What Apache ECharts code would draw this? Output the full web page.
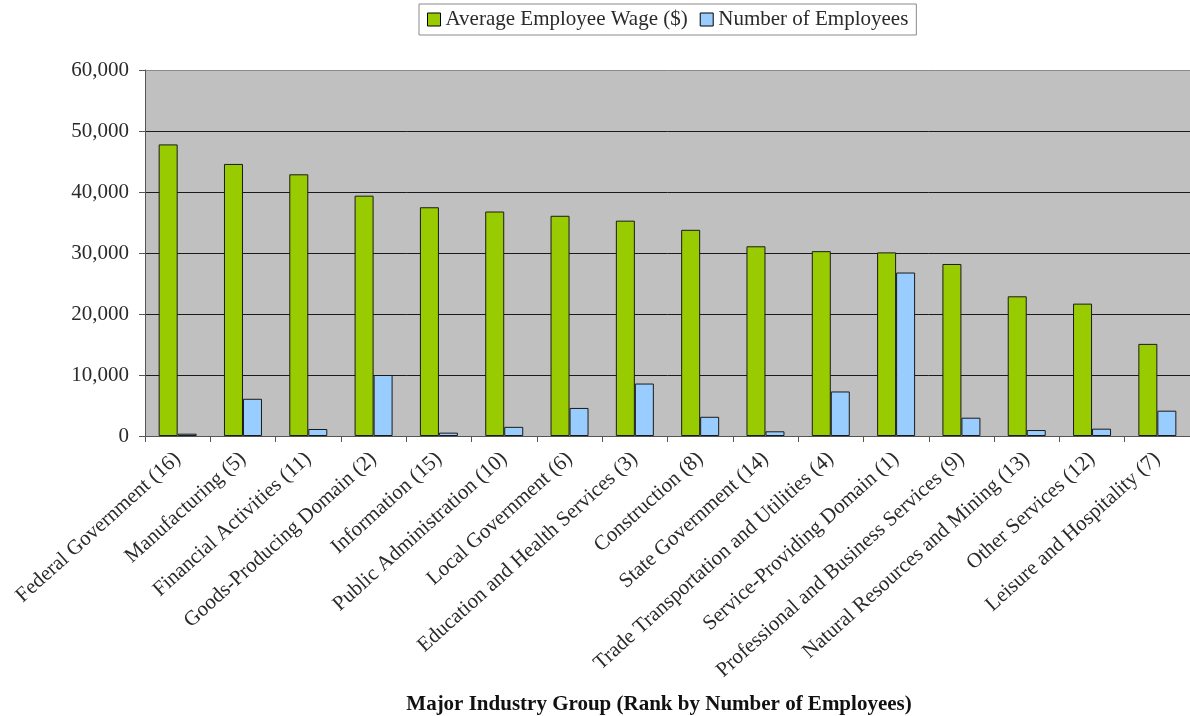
<!DOCTYPE html>
<html>
<head>
<meta charset="utf-8">
<title>Average Employee Wage and Number of Employees by Industry</title>
<script src="https://cdn.jsdelivr.net/npm/echarts@6/dist/echarts.min.js"></script>
<style>
  html, body { margin: 0; padding: 0; background: #fff; }
  #chart { width: 1190px; height: 716px; }
</style>
</head>
<body>
<div id="chart"></div>
<script>
// Industry groups, with their rank by number of employees
const categories = [
  'Federal Government (16)',
  'Manufacturing (5)',
  'Financial Activities (11)',
  'Goods-Producing Domain (2)',
  'Information (15)',
  'Public Administration (10)',
  'Local Government (6)',
  'Education and Health Services (3)',
  'Construction (8)',
  'State Government (14)',
  'Trade Transportation and Utilities (4)',
  'Service-Providing Domain (1)',
  'Professional and Business Services (9)',
  'Natural Resources and Mining (13)',
  'Other Services (12)',
  'Leisure and Hospitality (7)'
];

const averageWage = [
  47800, 44600, 42900, 39400, 37500, 36800, 36100, 35300,
  33800, 31100, 30300, 30100, 28200, 22900, 21700, 15100
];

const employees = [
  380, 6100, 1150, 10000, 550, 1500, 4600, 8600,
  3150, 770, 7300, 26800, 3000, 980, 1200, 4150
];

const yTicks = [0, 10000, 20000, 30000, 40000, 50000, 60000];

const serif = '"Liberation Serif", "Times New Roman", serif';
const textColor = '#2a2a2a';
const fontSize = 21;

const chart = echarts.init(document.getElementById('chart'), null, { renderer: 'canvas' });

chart.setOption({
  animation: false,
  backgroundColor: '#ffffff',
  textStyle: { fontFamily: serif, color: textColor },
  legend: {
    left: 419,
    top: 4,
    padding: [5, 8, 5, 8],
    borderColor: '#8a8a8a',
    borderWidth: 1,
    itemWidth: 13,
    itemHeight: 13,
    itemGap: 12,
    icon: 'rect',
    textStyle: { fontFamily: serif, fontSize: fontSize, color: textColor },
    data: [
      { name: 'Average Employee Wage ($)', itemStyle: { color: '#99cc00', borderColor: '#000', borderWidth: 1 } },
      { name: 'Number of Employees', itemStyle: { color: '#99ccff', borderColor: '#000', borderWidth: 1 } }
    ]
  },
  grid: {
    left: 145,
    right: 0,
    top: 70,
    bottom: 280,
    show: true,
    backgroundColor: '#c0c0c0',
    borderWidth: 0,
    containLabel: false,
    outerBoundsMode: 'none'
  },
  xAxis: {
    type: 'category',
    data: categories,
    boundaryGap: true,
    name: 'Major Industry Group (Rank by Number of Employees)',
    nameLocation: 'middle',
    nameGap: 258,
    nameTextStyle: {
      fontFamily: serif,
      fontSize: fontSize,
      fontWeight: 'bold',
      color: '#111',
      padding: [0, 17, 0, 0]
    },
    axisLine: { show: true, lineStyle: { color: '#555', width: 1 } },
    axisTick: { show: true, alignWithLabel: false, length: 6, lineStyle: { color: '#555' } },
    axisLabel: {
      rotate: 42,
      interval: 0,
      margin: 20,
      fontFamily: serif,
      fontSize: fontSize,
      color: textColor
    },
    splitLine: { show: false }
  },
  yAxis: {
    type: 'value',
    min: yTicks[0],
    max: yTicks[yTicks.length - 1],
    interval: 10000,
    axisLine: { show: true, lineStyle: { color: '#555', width: 1 } },
    axisTick: { show: true, length: 6, lineStyle: { color: '#555' } },
    axisLabel: {
      margin: 16,
      fontFamily: serif,
      fontSize: fontSize,
      color: textColor,
      formatter: v => v.toLocaleString('en-US')
    },
    splitLine: {
      show: true,
      lineStyle: { color: ['#1a1a1a', '#1a1a1a', '#1a1a1a', '#1a1a1a', '#1a1a1a', '#1a1a1a', '#8a8a8a'], width: 1 }
    }
  },
  series: [
    {
      name: 'Average Employee Wage ($)',
      type: 'bar',
      data: averageWage,
      barWidth: 19,
      barGap: '0%',
      itemStyle: { color: '#99cc00', borderColor: '#1a1a1a', borderWidth: 1 }
    },
    {
      name: 'Number of Employees',
      type: 'bar',
      data: employees,
      barWidth: 19,
      barGap: '0%',
      itemStyle: { color: '#99ccff', borderColor: '#1a1a1a', borderWidth: 1 }
    }
  ]
});
</script>
</body>
</html>
